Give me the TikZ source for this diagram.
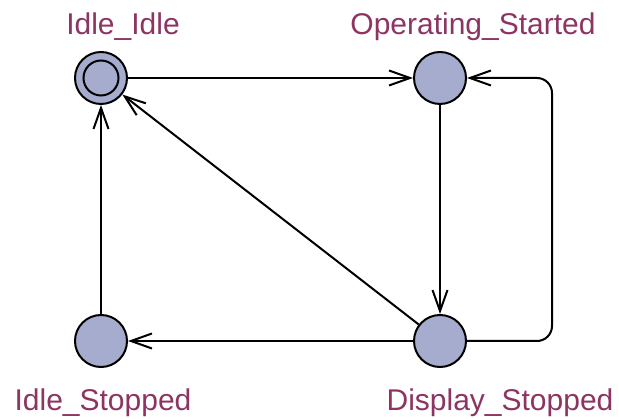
\documentclass[tikz,border=0pt]{standalone}
\usepackage{fontspec}
\setmainfont{Liberation Sans}
\usetikzlibrary{arrows.meta}
\definecolor{statefill}{RGB}{165,172,205}
\definecolor{labelcol}{RGB}{140,52,98}
\begin{document}
\begin{tikzpicture}[x=1pt,y=-1pt,
  state/.style={circle,draw=black,line width=2pt,fill=statefill,minimum size=52pt,inner sep=0pt},
  lbl/.style={anchor=base,text=labelcol,font=\fontsize{30pt}{32pt}\selectfont,inner sep=0pt},
  trans/.style={line width=2pt,-{Straight Barb[length=21pt,width=15pt,line width=2pt]}}]
\useasboundingbox (0,0) rectangle (619,419);
\node[state] (II) at (101,78) {};
\node[circle,draw=black,line width=2pt,minimum size=35pt,inner sep=0pt] (IIin) at (101,78) {};
\node[state] (OS) at (440,78) {};
\node[state] (IS) at (101,341) {};
\node[state] (DS) at (440,341) {};
\node[lbl] (lII) at (123,35) {Idle\_Idle};
\node[lbl] (lOS) at (473,35) {Operating\_Started};
\node[lbl] (lIS) at (103,411) {Idle\_Stopped};
\node[lbl] (lDS) at (500,411) {Display\_Stopped};
\coordinate (c1) at (552,341);
\coordinate (c2) at (552,78);
\draw[trans] (II.east) -- (OS.west);
\draw[trans] (OS.south) -- (DS.north);
\draw[trans,rounded corners=15pt] (DS.east) -- (c1) -- (c2) -- (OS.east);
\draw[trans] (DS.west) -- (IS.east);
\draw[trans] (DS) -- (II);
\draw[trans] (IS.north) -- (II.south);
\end{tikzpicture}
\end{document}
